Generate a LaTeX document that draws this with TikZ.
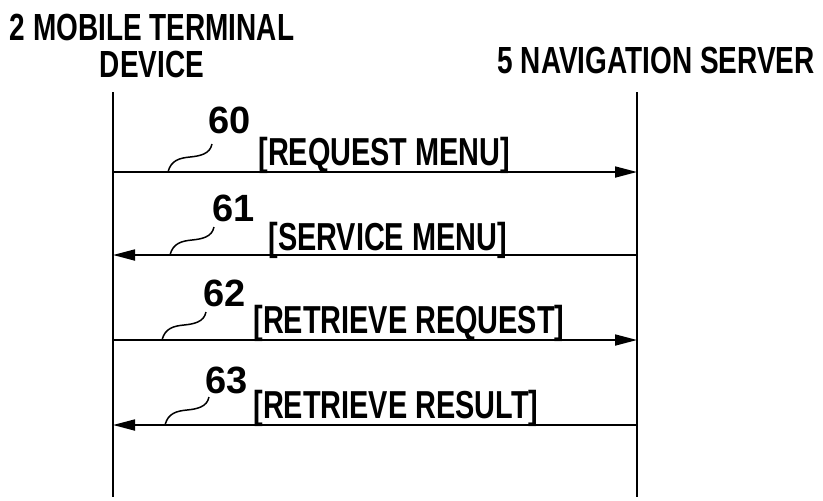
\documentclass[tikz,border=0pt]{standalone}
\usepackage{fontspec}
\setmainfont{Liberation Sans}[FakeStretch=0.74]
\newfontfamily\chiffres{Liberation Sans}
\usetikzlibrary{positioning, arrows.meta}

\begin{document}
\begin{tikzpicture}[x=0.5pt, y=-0.5pt,
    >={Triangle[length=11pt, width=5.5pt]},
    entete/.style={font=\fontsize{18.9}{18.5}\selectfont\bfseries, inner sep=0pt, align=center},
    libelle/.style={font=\fontsize{19.5}{20}\selectfont\bfseries, inner sep=0pt, anchor=base west},
    numero/.style={font=\chiffres\fontsize{19}{19}\selectfont\bfseries, inner sep=0pt, anchor=base west},
    message/.style={->, line width=0.9pt},
    vie/.style={line width=0.9pt},
    renvoi/.style={line width=0.75pt}]
    \useasboundingbox (0,0) rectangle (823,500);
    % les deux entites et leurs lignes de vie
    \node[entete, anchor=base] (mobile) at (152,77) {2 MOBILE TERMINAL\\DEVICE};
    \node[entete, anchor=base east] (serveur) at (815,73) {5 NAVIGATION SERVER};
    \coordinate (mh) at (113,92);
    \coordinate (mb) at (113,497);
    \coordinate (sh) at (637,92);
    \coordinate (sb) at (637,497);
    \draw[vie] (mh) -- (mb);
    \draw[vie] (sh) -- (sb);
    % 60 : demande du menu
    \coordinate (m60) at (113,172);
    \coordinate (s60) at (637,172);
    \draw[message] (m60) -- (s60);
    \node[libelle] (t60) at (258,165) {[REQUEST MENU]};
    \node[numero] (n60) at (208,133) {60};
    \coordinate (r60) at (168,172);
    \draw[renvoi] (r60) .. controls +(3,-12) and +(-10,1) .. ++(22,-15) .. controls +(10,-1) and +(-2,10) .. ++(22,-13);
    % 61 : menu des services
    \coordinate (m61) at (113,255);
    \coordinate (s61) at (637,255);
    \draw[message] (s61) -- (m61);
    \node[libelle] (t61) at (268,250) {[SERVICE MENU]};
    \node[numero] (n61) at (212,221) {61};
    \coordinate (r61) at (170,255);
    \draw[renvoi] (r61) .. controls +(3,-12) and +(-10,1) .. ++(22,-15) .. controls +(10,-1) and +(-2,10) .. ++(22,-13);
    % 62 : demande de recherche
    \coordinate (m62) at (113,340);
    \coordinate (s62) at (637,340);
    \draw[message] (m62) -- (s62);
    \node[libelle] (t62) at (253,333) {[RETRIEVE REQUEST]};
    \node[numero] (n62) at (203,306) {62};
    \coordinate (r62) at (162,340);
    \draw[renvoi] (r62) .. controls +(3,-12) and +(-10,1) .. ++(22,-15) .. controls +(10,-1) and +(-2,10) .. ++(22,-13);
    % 63 : resultat de recherche
    \coordinate (m63) at (113,425);
    \coordinate (s63) at (637,425);
    \draw[message] (s63) -- (m63);
    \node[libelle] (t63) at (253,418) {[RETRIEVE RESULT]};
    \node[numero] (n63) at (205,393) {63};
    \coordinate (r63) at (165,425);
    \draw[renvoi] (r63) .. controls +(3,-12) and +(-10,1) .. ++(22,-15) .. controls +(10,-1) and +(-2,10) .. ++(22,-13);
\end{tikzpicture}
\end{document}
